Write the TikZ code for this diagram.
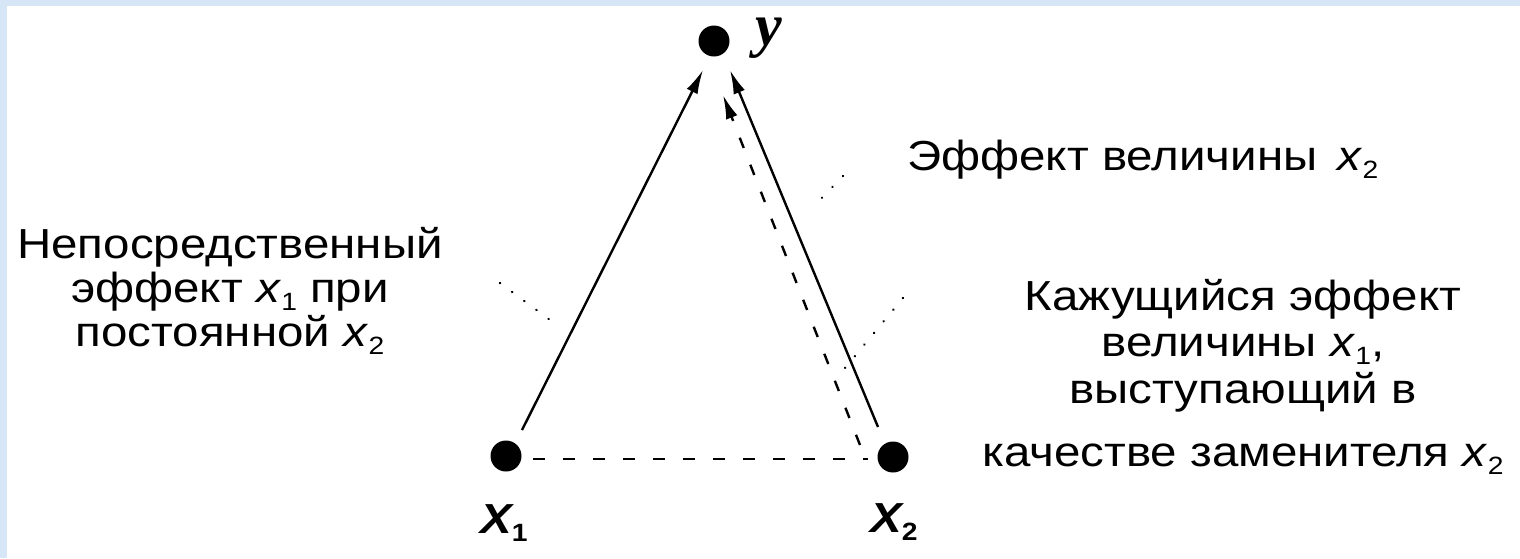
\documentclass[tikz,border=0pt]{standalone}
\usepackage{fontspec}
\setmainfont{Liberation Sans}[FakeStretch=1.13]
\newfontfamily\serifbi{Liberation Serif}[BoldItalicFont={* Bold Italic}]
\usetikzlibrary{arrows.meta}
\definecolor{bgblue}{RGB}{214,230,246}
\newcommand\sbs[1]{\raisebox{-8pt}[0pt][0pt]{\fontsize{25}{25}\selectfont #1}}
\tikzset{
  dot/.style={circle,fill=black,inner sep=0pt,minimum size=31pt},
  lbl/.style={inner sep=0pt,anchor=base,text height=30pt,text depth=5pt,font=\fontsize{42}{45}\selectfont},
  block/.style={inner sep=0pt,align=center,anchor=north,font=\fontsize{42}{44}\selectfont},
  conn/.style={line width=2.4pt,-{Latex[length=24pt,width=12pt]}},
  dconn/.style={conn,dash pattern=on 11pt off 18pt},
  dline/.style={line width=2.4pt,dash pattern=on 12pt off 18pt},
  leader/.style={line width=2.6pt,line cap=round,dash pattern=on 0.1pt off 15pt}
}
\begin{document}
\begin{tikzpicture}[x=1pt,y=-1pt]
\fill[bgblue] (0,0) rectangle (1520,558);
\fill[white] (7,6) rectangle (1520,558);
\useasboundingbox (0,0) rectangle (1520,558);

% points
\node[dot] (y) at (714,41) {};
\node[dot] (x1) at (506,456) {};
\node[dot] (x2) at (893,457) {};

\coordinate (a1s) at (522,430);
\coordinate (a1e) at (703,70);
\coordinate (a2s) at (878,427);
\coordinate (a2e) at (730,70);
\coordinate (a3s) at (860,445);
\coordinate (a3e) at (723,95);
\coordinate (hs) at (533,459);
\coordinate (he) at (868,459);

\draw[conn] (a1s) -- (a1e);
\draw[conn] (a2s) -- (a2e);
\draw[dconn] (a3s) -- (a3e);
\draw[dline] (hs) -- (he);

% labels of points
\node[inner sep=0pt,anchor=base west,font=\serifbi\bfseries\itshape\fontsize{60}{60}\selectfont] (ylab) at (755,45) {y};
\node[inner sep=0pt,anchor=base west,font=\bfseries\itshape\fontsize{42}{42}\selectfont] (x1lab) at (480,533) {X\sbs{\upshape 1}};
\node[inner sep=0pt,anchor=base west,font=\bfseries\itshape\fontsize{42}{42}\selectfont] (x2lab) at (870,532) {X\sbs{\upshape 2}};

% texts
\node[block] (L) at (230,226) {\rule{0pt}{32pt}Непосредственный\\эффект \textit{x}\sbs{1} при\\постоянной \textit{x}\sbs{2}};

\node[lbl,anchor=base west] (t1) at (907,170) {Эффект величины\, \textit{x}\sbs{2}};

\node[lbl] (r1) at (1243,310) {Кажущийся эффект};
\node[lbl] (r2) at (1243,356) {величины \textit{x}\sbs{1},};
\node[lbl] (r3) at (1243,403) {выступающий в};
\node[lbl] (r4) at (1243,466) {качестве заменителя \textit{x}\sbs{2}};

% leaders
\coordinate (p1) at (500,283);
\coordinate (p2) at (550,320);
\draw[leader] (p1) -- (p2);
\coordinate (q1) at (843,176);
\coordinate (q2) at (812,208);
\draw[leader] (q1) -- (q2);
\coordinate (s1) at (903,298);
\coordinate (s2) at (845,368);
\draw[leader] (s1) -- (s2);
\end{tikzpicture}
\end{document}
